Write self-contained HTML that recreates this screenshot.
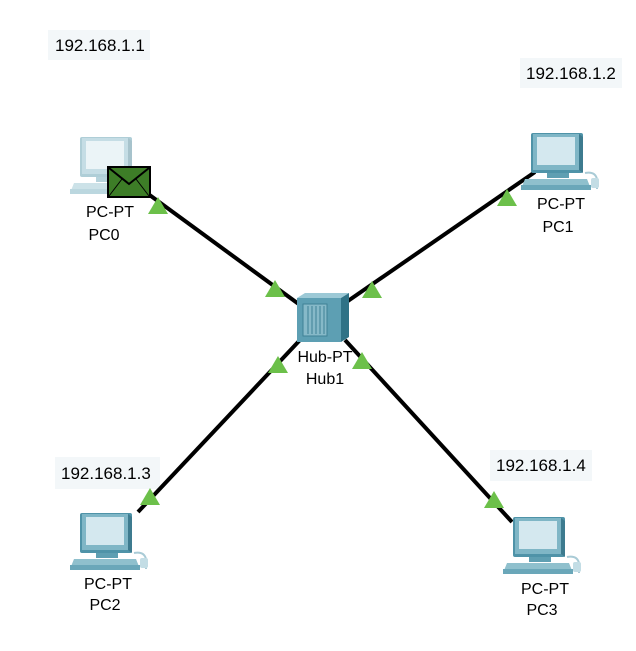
<!DOCTYPE html>
<html><head><meta charset="utf-8"><style>
html,body{margin:0;padding:0;background:#fff;}
svg{display:block;font-family:"Liberation Sans",Arial,sans-serif;}
</style></head><body>
<svg width="636" height="651" viewBox="0 0 636 651" xmlns="http://www.w3.org/2000/svg">
<defs>
<g id="pc">
  <rect x="0" y="0" width="52" height="40" rx="2" fill="#4f93a8"/>
  <rect x="2" y="1" width="46" height="36" fill="#7fb6c6"/>
  <rect x="6" y="4" width="38" height="28" fill="#d4e8ef"/>
  <polygon points="48,1 52,4 52,40 48,37" fill="#3d7b8f"/>
  <rect x="16" y="40" width="22" height="5" fill="#5f9fb2"/>
  <polygon points="-6,46 56,46 60,56 -10,56" fill="#8fc0cd"/>
  <rect x="-10" y="52" width="70" height="5" fill="#6aa7b9"/>
  <path d="M54 40 q10 -2 12 6 v10" stroke="#a9cbd6" stroke-width="2" fill="none"/>
  <rect x="60" y="45" width="8" height="10" rx="2" fill="#c3dde5"/>
</g>
</defs>
<rect x="48" y="30" width="102" height="30" fill="#f3f7f9"/>
<text x="55" y="51" font-size="17">192.168.1.1</text>
<rect x="520" y="58" width="102" height="30" fill="#f3f7f9"/>
<text x="526" y="79" font-size="17">192.168.1.2</text>
<rect x="55" y="457" width="105" height="32" fill="#f3f7f9"/>
<text x="61" y="479" font-size="17">192.168.1.3</text>
<rect x="490" y="450" width="102" height="31" fill="#f3f7f9"/>
<text x="496" y="471" font-size="17">192.168.1.4</text>
<g stroke="#000" stroke-width="4">
<line x1="140" y1="188" x2="300" y2="305"/>
<line x1="535" y1="172" x2="345" y2="303"/>
<line x1="138" y1="512" x2="300" y2="340"/>
<line x1="512" y1="522" x2="345" y2="340"/>
</g>
<g opacity="0.45"><use href="#pc" x="80" y="137"/></g>
<use href="#pc" x="531" y="133"/>
<use href="#pc" x="80" y="513"/>
<use href="#pc" x="513" y="517"/>
<rect x="108" y="167" width="42" height="30" fill="#3d7d27" stroke="#000" stroke-width="2"/>
<polyline points="109,168 129,184 149,168" fill="none" stroke="#000" stroke-width="2"/>
<line x1="109" y1="196" x2="122" y2="179" stroke="#000" stroke-width="1"/>
<line x1="149" y1="196" x2="136" y2="179" stroke="#000" stroke-width="1"/>
<rect x="297" y="298" width="44" height="44" fill="#5d9fb3"/>
<polygon points="297,298 305,293 349,293 341,298" fill="#9cc9d6"/>
<polygon points="341,298 349,293 349,337 341,342" fill="#2f7286"/>
<rect x="303" y="304" width="24" height="32" fill="#86b9c8" stroke="#3f8196"/>
<g stroke="#3f8196" stroke-width="1"><line x1="308" y1="306" x2="308" y2="334"/><line x1="312" y1="306" x2="312" y2="334"/><line x1="316" y1="306" x2="316" y2="334"/><line x1="320" y1="306" x2="320" y2="334"/><line x1="324" y1="306" x2="324" y2="334"/></g>
<g fill="#6cc04a">
<polygon points="158,197 148,214 168,214"/>
<polygon points="275,280 265,297 285,297"/>
<polygon points="507,189 497,206 517,206"/>
<polygon points="372,281 362,298 382,298"/>
<polygon points="150,488 140,505 160,505"/>
<polygon points="278,356 268,373 288,373"/>
<polygon points="494,491 484,508 504,508"/>
<polygon points="362,352 352,369 372,369"/>
</g>
<g font-size="16" text-anchor="middle">
<text x="110" y="217">PC-PT</text><text x="104" y="240">PC0</text>
<text x="561" y="209">PC-PT</text><text x="558" y="232">PC1</text>
<text x="108" y="589">PC-PT</text><text x="105" y="610">PC2</text>
<text x="545" y="594">PC-PT</text><text x="542" y="615">PC3</text>
<text x="325" y="362">Hub-PT</text><text x="325" y="384">Hub1</text>
</g>
</svg>
</body></html>
